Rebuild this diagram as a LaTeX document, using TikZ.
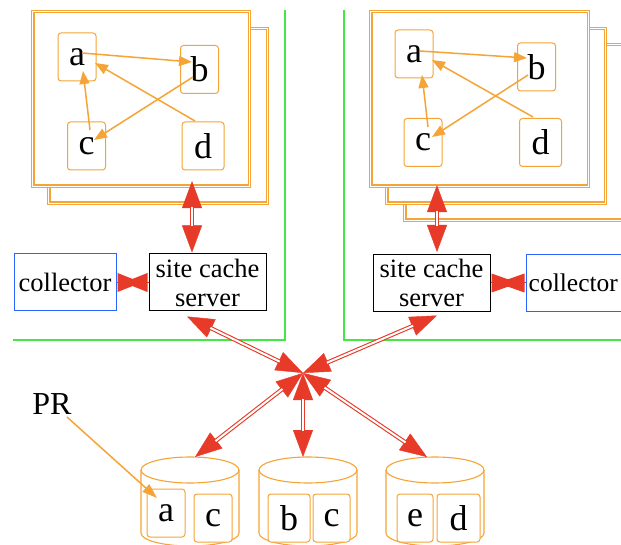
\documentclass[tikz,border=0pt]{standalone}
\usepackage{fontspec}
\setmainfont{Liberation Serif}
\usetikzlibrary{arrows.meta}
\definecolor{orgc}{RGB}{245,165,55}
\definecolor{redc}{RGB}{232,58,40}
\definecolor{greenc}{RGB}{70,230,70}
\definecolor{bluec}{RGB}{40,100,255}
\newcommand\letterfont{\fontsize{36}{36}\selectfont}
\newcommand\labelfont{\fontsize{26.5}{29}\selectfont}
\tikzset{
  frame/.style={draw=orgc, line width=1.3pt, fill=white, inner sep=0pt},
  framein/.style={draw=orgc, line width=1.3pt},
  letter/.style={draw=orgc, line width=1pt, rounded corners=3pt, fill=white, inner sep=0pt,
    minimum width=38pt, minimum height=48pt, font=\letterfont},
  oedge/.style={draw=orgc, line width=1.5pt, -{Triangle[length=13pt,width=10pt]}},
  redtip/.style={draw=redc, line width=0.4pt, {Triangle[length=27pt,width=20pt]}-{Triangle[length=27pt,width=20pt]}},
  redline/.style={draw=redc, line width=1.1pt, double=white, double distance=2pt, shorten <=26pt, shorten >=26pt},
  bowfill/.style={fill=redc},
  server/.style={draw=black, line width=1pt, fill=white, inner sep=0pt, minimum width=117pt, minimum height=57pt, align=center, font=\labelfont},
  collect/.style={draw=bluec, line width=1pt, fill=white, inner sep=0pt, minimum width=102pt, minimum height=57pt, font=\labelfont},
  gline/.style={draw=greenc, line width=2pt},
  cyl/.style={draw=orgc, line width=1.1pt}
}
\newcommand\dblarrow[2]{\draw[redtip] #1 -- #2; \draw[redline] #1 -- #2;}
% bow tie between west node (#1, its east side) and east node (#2, its west side)
\newcommand\redbowtie[2]{%
  \fill[bowfill] ([shift={(1,-9.5)}]#1.east) -- ([shift={(1,9.5)}]#1.east) -- ([shift={(-7,0)}]#2.west) -- cycle;
  \fill[bowfill] ([shift={(-1,-9.5)}]#2.west) -- ([shift={(-1,9.5)}]#2.west) -- ([shift={(7,0)}]#1.east) -- cycle;
  \draw[redc, line width=1pt] (#1.east) -- (#2.west);
}
\newcommand\stackframe[5]{%
  \node[frame, minimum width=#4pt, minimum height=#5pt] (#1) at (#2,#3) {};
  \draw[framein] ([shift={(3,3)}]#1.north west) rectangle ([shift={(-3,-3)}]#1.south east);
}
\newcommand\cylfig[1]{%
  \draw[cyl] (#1,470) ellipse [x radius=49, y radius=13];
  \draw[cyl] ({#1-49},470) -- ({#1-49},533) arc[start angle=180, end angle=0, x radius=49, y radius=13] -- ({#1+49},470);
}
\begin{document}
\begin{tikzpicture}[x=1pt,y=-1pt]
\useasboundingbox (0,0) rectangle (621,545);
\clip (0,0) rectangle (621,545);
\fill[white] (0,0) rectangle (621,545);

% green cluster borders
\draw[gline] (285,10) -- (285,340) -- (13,340);
\draw[gline] (344,10) -- (344,340) -- (625,340);

% left stack
\stackframe{fr1b}{158}{116}{221}{177}
\stackframe{fr1}{141}{99}{219}{177}
\node[letter] (a1) at (77,57) {a};
\node[letter] (b1) at (199.5,69.5) {b};
\node[letter] (c1) at (86.5,146) {c};
\node[letter, minimum width=42pt] (d1) at (203,146) {d};
\draw[oedge] ([shift={(5,-4)}]a1.center) -- ([shift={(-7.5,-7.5)}]b1.center);
\draw[oedge] ([shift={(-8,-25)}]d1.center) -- ([shift={(18,6)}]a1.center);
\draw[oedge] ([shift={(-6.5,7.5)}]b1.center) -- ([shift={(7.5,-6)}]c1.center);
\draw[oedge] ([shift={(3.5,-16)}]c1.center) -- ([shift={(6,14)}]a1.center);

% right stack
\stackframe{fr2c}{514}{132.5}{221}{178}
\stackframe{fr2b}{496}{116}{221}{177}
\stackframe{fr2}{479.5}{99}{220}{177}
\node[letter] (a2) at (414,54) {a};
\node[letter] (b2) at (536.5,67) {b};
\node[letter] (c2) at (423,142.5) {c};
\node[letter, minimum width=42pt] (d2) at (540.5,142.5) {d};
\draw[oedge] ([shift={(6,-3)}]a2.center) -- ([shift={(-9.5,-9)}]b2.center);
\draw[oedge] ([shift={(-7.5,-25.5)}]d2.center) -- ([shift={(18,6)}]a2.center);
\draw[oedge] ([shift={(-8.5,8)}]b2.center) -- ([shift={(9,-5.5)}]c2.center);
\draw[oedge] ([shift={(5,-15.5)}]c2.center) -- ([shift={(8,21)}]a2.center);

% servers and collectors
\node[server] (s1) at (207.5,282.5) {site cache\\server};
\node[collect] (col1) at (65,282.5) {collector};
\node[server] (s2) at (431.5,283) {site cache\\server};
\node[collect] (col2) at (577,283) {};
\node[font=\fontsize{25.5}{28}\selectfont, inner sep=0pt, anchor=west] (col2t) at (528.5,283) {collector};

\redbowtie{col1}{s1}
\redbowtie{s2}{col2}

\coordinate (hub) at (303,373);

% cylinders
\cylfig{190}
\cylfig{308}
\cylfig{435}
\coordinate (t1) at (195,457);
\coordinate (t2) at (303,457);
\coordinate (t3) at (427,457);
\node[letter] (ca) at (166,513) {a};
\node[letter] (cc1) at (213,518) {c};
\node[letter, minimum width=42pt] (cb) at (289,518) {b};
\node[letter, minimum width=37pt] (cc2) at (331.5,518) {c};
\node[letter, minimum width=36pt] (ce) at (415,518) {e};
\node[letter, minimum width=43pt] (cd) at (458.5,518) {d};

% red double arrows
\dblarrow{([shift={(51,-7)}]fr1.south)}{([shift={(-15.5,-1)}]s1.north)}
\dblarrow{([shift={(-42.5,-3)}]fr2.south)}{([shift={(5.5,-2)}]s2.north)}
\dblarrow{([shift={(-20.5,5)}]s1.south)}{(hub)}
\dblarrow{([shift={(5.5,3.5)}]s2.south)}{(hub)}
\dblarrow{(hub)}{(t1)}
\dblarrow{(hub)}{(t2)}
\dblarrow{(hub)}{(t3)}

% PR
\node[font=\fontsize{32}{32}\selectfont, inner sep=0pt] (pr) at (52,404) {PR};
\draw[draw=orgc, line width=1.5pt, -{Triangle[length=15pt,width=10pt]}] ([shift={(15,13)}]pr.center) -- ([shift={(-9,-15)}]ca.center);
\end{tikzpicture}
\end{document}
